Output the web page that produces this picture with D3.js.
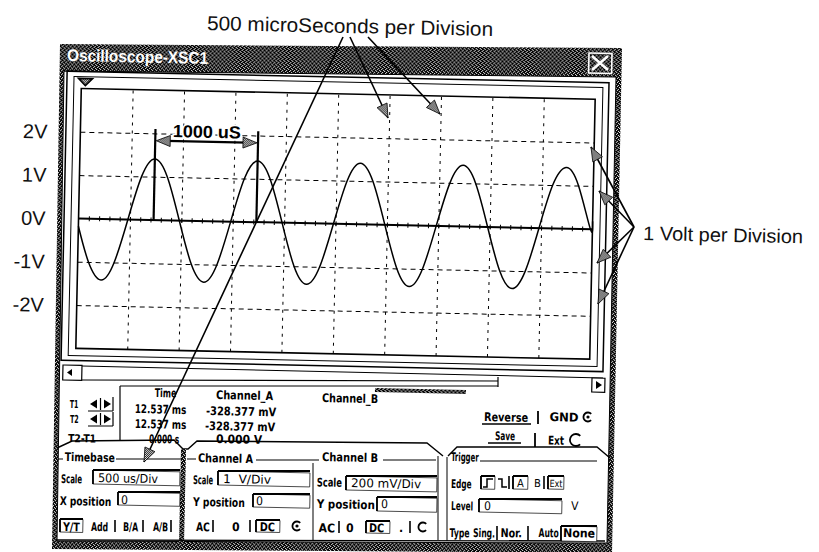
<!DOCTYPE html>
<html><head><meta charset="utf-8">
<script src="https://cdn.jsdelivr.net/npm/d3@7"></script>
<style>html,body{margin:0;padding:0;background:#fff;}svg{display:block;}</style>
</head><body>
<svg id="c" width="819" height="552"></svg>
<script>
// ---------------- DATA ----------------
const timeUs = [0,105,230,355,480,605,730,855,980,1105,1230,1355,1480,1605,1730,1855,1980,2105,2230,2355,2480,2605,2730,2855,2980,3105,3230,3355,3480,3605,3730,3855,3980,4105,4230,4355,4480,4605,4730,4855,4980,5000];
const voltA = [-0.18,
  -1.0,-1.41,-1.0,0,1.0,1.41,1.0,0,
  -1.0,-1.41,-1.0,0,1.0,1.41,1.0,0,
  -1.0,-1.41,-1.0,0,1.0,1.41,1.0,0,
  -1.0,-1.41,-1.0,0,1.0,1.41,1.0,0,
  -1.0,-1.41,-1.0,0,1.0,1.41,1.0,0,
  0.18];
const gridTimesUs = [500,1000,1500,2000,2500,3000,3500,4000,4500];
const gridVolts = [2,1,-1,-2];
const voltTicks = [2,1,0,-1,-2];
const voltLabels = ["2V","1V","0V","-1V","-2V"];
const cursorTimesUs = [730,1730];
const spanVolt = [1.83];
const spanLabel = ["1000 uS"];
const timeDomainUs = [0,5000];
const voltDomain = [-3,3];

// ---------------- SETUP ----------------
const svg = d3.select("#c");
const ROT = 1.2, CX = 335.5, CY = 223.8;
const rad = ROT*Math.PI/180, SN = Math.sin(rad), CS = Math.cos(rad);
const u = (x,y)=>[CX+(x-CX)*CS+(y-CY)*SN, CY-(x-CX)*SN+(y-CY)*CS];
const NARROW = "'Liberation Sans Narrow','Arial Narrow','DejaVu Sans Condensed','Liberation Sans',Arial,sans-serif";
const SANS = "'Liberation Sans',Arial,sans-serif";

const defs = svg.append("defs");
function pattern(id,n,cells){
  const p = defs.append("pattern").attr("id",id).attr("width",n).attr("height",n).attr("patternUnits","userSpaceOnUse");
  p.append("rect").attr("width",n).attr("height",n).attr("fill","#fff");
  cells.forEach(([a,b])=>p.append("rect").attr("x",a).attr("y",b).attr("width",1).attr("height",1).attr("fill","#000"));
}
pattern("dark",4,[[0,0],[1,0],[3,0],[1,1],[2,1],[3,1],[0,2],[2,2],[3,2],[0,3],[1,3],[2,3]]);
pattern("mid",2,[[0,0],[1,1]]);

const g = svg.append("g").attr("transform",`rotate(${ROT},${CX},${CY})`);

function txt(x,y,s,o={}){
  const [a,b]=u(x,y);
  const t=g.append("text").attr("x",a).attr("y",b).text(s)
    .attr("font-family",o.ff||NARROW).attr("font-size",o.fs||12)
    .attr("font-weight",o.fw||"bold").attr("fill",o.fill||"#000")
    .attr("text-anchor",o.anchor||"start").style("white-space","pre");
  if(o.w) t.attr("textLength",o.w).attr("lengthAdjust","spacingAndGlyphs");
  return t;
}
function ln(x1,y1,x2,y2,sw=1,col="#000"){
  const a=u(x1,y1),b=u(x2,y2);
  return g.append("line").attr("x1",a[0]).attr("y1",a[1]).attr("x2",b[0]).attr("y2",b[1]).attr("stroke",col).attr("stroke-width",sw);
}
function pl(pts,sw=1,col="#000"){
  return g.append("path").attr("d","M"+pts.map(p=>u(p[0],p[1]).join(",")).join("L")).attr("fill","none").attr("stroke",col).attr("stroke-width",sw);
}
function poly(pts,fill,stroke="none",sw=0){
  return g.append("path").attr("d","M"+pts.map(p=>u(p[0],p[1]).join(",")).join("L")+"Z").attr("fill",fill).attr("stroke",stroke).attr("stroke-width",sw);
}
function rc(x,y,w,h,fill="none",stroke="#000",sw=1){
  const [a,b]=u(x,y);
  return g.append("rect").attr("x",a).attr("y",b).attr("width",w).attr("height",h).attr("fill",fill).attr("stroke",stroke).attr("stroke-width",sw);
}
function box(x,y,w,h){
  rc(x,y,w,h,"#fff","#000",0.7);
  ln(x,y,x+w,y,1.8); ln(x,y,x,y+h,1.8);
}
function headU(tip,from,len=14,half=5.5){
  const dx=tip[0]-from[0], dy=tip[1]-from[1], L=Math.hypot(dx,dy), ux=dx/L, uy=dy/L;
  const bx=tip[0]-ux*len, by=tip[1]-uy*len;
  const p1=[bx-uy*half,by+ux*half], p2=[bx+uy*half,by-ux*half];
  g.append("path").attr("d","M"+[tip,p1,p2].map(p=>p.join(",")).join("L")+"Z")
    .attr("fill","url(#mid)").attr("stroke","#000").attr("stroke-width",0.8);
}
function arrowObs(x1,y1,x2,y2){ ln(x1,y1,x2,y2,1.6); headU(u(x2,y2),u(x1,y1)); }
function radio(cx,cy,sel,r=4.5){
  const [a,b]=u(cx,cy);
  g.append("path").attr("d",`M${a+r*0.7},${b-r*0.7} A${r},${r} 0 1 0 ${a+r*0.7},${b+r*0.7}`)
    .attr("fill","none").attr("stroke","#000").attr("stroke-width",1.8);
  if(sel) g.append("circle").attr("cx",a).attr("cy",b).attr("r",1.6).attr("fill","#000");
}
function tri(pts){ g.append("path").attr("d","M"+pts.map(p=>u(p[0],p[1]).join(",")).join("L")+"Z").attr("fill","#000"); }

// ---------------- WINDOW ----------------
poly([[60,44],[622,48],[612,553],[52,549]],"url(#dark)");
poly([[64,71],[616,77],[607,543],[57,541]],"#fff","#000",1);
// close button
rc(589,53,23,20,"none","#fff",1.6);
{ const a=u(592,56), b=u(608,70), c=u(608,56), d=u(592,70);
  g.append("path").attr("d",`M${a}L${b}M${c}L${d}`).attr("stroke","#fff").attr("stroke-width",2.6); }
txt(67,61,"Oscilloscope-XSC1",{fs:17,fill:"#fff",w:141,ff:SANS});

// screen frame
g.append("rect").attr("x",64).attr("y",77).attr("width",542).attr("height",289).attr("fill","#fff").attr("stroke","#000").attr("stroke-width",1.5);
g.append("rect").attr("x",71).attr("y",82).attr("width",529).attr("height",279).attr("fill","none").attr("stroke","#000").attr("stroke-width",1);

// ---------------- PLOT ----------------
const x = d3.scaleLinear().domain(timeDomainUs).range([78.5,592.5]);
const y = d3.scaleLinear().domain(voltDomain).range([353.8,93.8]);
const gw = x.range()[1]-x.range()[0], gh = y.range()[0]-y.range()[1];

const gx = g.append("g").attr("transform",`translate(0,${y(voltDomain[0])})`)
  .call(d3.axisBottom(x).tickValues(gridTimesUs).tickSize(-gh).tickFormat(""));
gx.select(".domain").remove();
gx.selectAll("line").attr("stroke","#000").attr("stroke-width",1).attr("stroke-dasharray","3,5");

const gy = g.append("g").attr("transform",`translate(${x(timeDomainUs[0])},0)`)
  .call(d3.axisLeft(y).tickValues(gridVolts).tickSize(-gw).tickFormat(""));
gy.select(".domain").remove();
gy.selectAll("line").attr("stroke","#000").attr("stroke-width",1).attr("stroke-dasharray","5,4");

g.append("rect").attr("x",x(timeDomainUs[0])).attr("y",y(voltDomain[1])).attr("width",gw).attr("height",gh)
  .attr("fill","none").attr("stroke","#000").attr("stroke-width",1.6);

// zero axis with minor ticks
const g0 = g.append("g").attr("transform",`translate(0,${y(0)})`)
  .call(d3.axisBottom(x).tickValues(d3.range(100,5000,100)).tickSize(2.5).tickFormat(""));
g0.select(".domain").remove();
g0.selectAll("line").attr("y1",-2.5).attr("stroke","#000").attr("stroke-width",1);
g.append("line").attr("x1",x(0)).attr("x2",x(5000)).attr("y1",y(0)).attr("y2",y(0)).attr("stroke","#000").attr("stroke-width",2);

// trigger marker
g.append("path").attr("d",`M${x(0)-3},${y(3)-10}L${x(0)+11},${y(3)-10}L${x(0)+4},${y(3)-3}Z`).attr("fill","url(#mid)").attr("stroke","#000").attr("stroke-width",1.6);

// trace
const pts = timeUs.map((t,i)=>[t,voltA[i]]);
g.append("path").datum(pts).attr("fill","none").attr("stroke","#000").attr("stroke-width",1.5)
  .attr("d",d3.line().x(d=>x(d[0])).y(d=>y(d[1])).curve(d3.curveNatural));

// volt labels
g.selectAll("text.vl").data(voltTicks).enter().append("text").attr("class","vl")
  .attr("x",45.5).attr("y",d=>y(d)+7.5).attr("text-anchor","end")
  .attr("font-family",SANS).attr("font-size",20).attr("fill","#111")
  .text((d,i)=>voltLabels[i]);

// cursors + 1000 uS span
cursorTimesUs.forEach(t=>{
  g.append("line").attr("x1",x(t)).attr("x2",x(t)).attr("y1",y(0)).attr("y2",y(2.1)).attr("stroke","#000").attr("stroke-width",2.2);
});
const sy = y(spanVolt[0]);
const ax1 = x(cursorTimesUs[0])+1, ax2 = x(cursorTimesUs[1])-1;
g.append("line").attr("x1",ax1+10).attr("x2",ax2-10).attr("y1",sy).attr("y2",sy).attr("stroke","#000").attr("stroke-width",2.2);
headU([ax1,sy],[ax2,sy],14,5.5);
headU([ax2,sy],[ax1,sy],14,5.5);
g.append("text").attr("x",(ax1+ax2)/2).attr("y",sy-4).attr("text-anchor","middle")
  .attr("font-family",SANS).attr("font-weight","bold").attr("font-size",17.5)
  .attr("stroke","#fff").attr("stroke-width",3).attr("paint-order","stroke")
  .attr("textLength",68).attr("lengthAdjust","spacingAndGlyphs").text(spanLabel[0]);

// ---------------- SCROLL BAR ----------------
rc(63,365,19,15,"#fff","#000",1.2);
tri([[67,372.5],[72,369],[72,376]]);
ln(82,366,603,378,1);
ln(82,380,498,381,1.2);
ln(498,377,498,387,1.2);
rc(592,378,13,14,"#fff","#000",1.2);
tri([[602,385],[596,381],[596,389]]);

// ---------------- READOUT ----------------
ln(120,386,498,386,1.2);
rc(375,388,91,4,"url(#dark)","none",0);
ln(120,386,120,440,1.2);
txt(69.7,408,"T1",{fs:11,w:8.5});
txt(70,423,"T2",{fs:11,w:8.5});
[[88,398],[88,413]].forEach(([bx,by])=>{
  tri([[bx+2,by+6],[bx+9,by+1.5],[bx+9,by+10.5]]);
  tri([[bx+23,by+6],[bx+16,by+1.5],[bx+16,by+10.5]]);
  ln(bx+12.5,by,bx+12.5,by+12,1.2);
  ln(bx,by+13,bx+25,by+13,1.2);
  ln(bx+25,by-1,bx+25,by+13,1.2);
});
txt(68,442,"T2-T1",{fs:11,w:28});
txt(154.7,397,"Time",{fs:12,w:21.5});
txt(134.7,413,"12.537 ms",{fs:12,w:51.5});
txt(134.7,428,"12.537 ms",{fs:12,w:51.5});
txt(149,443,"0.000 s",{fs:12,w:30});
txt(216,399,"Channel_A",{fs:12,w:57});
txt(206,415,"-328.377 mV",{fs:12,w:70});
txt(205,430,"-328.377 mV",{fs:12,w:70});
txt(216,443,"0.000 V",{fs:12,w:46});
txt(322,402,"Channel_B",{fs:12,w:56});
txt(484,421,"Reverse",{fs:12,w:44});
ln(482,424,531,424,1.5);
ln(538,411,538,424,1.8);
txt(549.5,421,"GND",{fs:12,w:29});
radio(588,417,true);
txt(495,440,"Save",{fs:12,w:20});
ln(488,443,521,443,1.5);
ln(535,433,535,447,1.8);
txt(548,444.5,"Ext",{fs:12,w:16});
radio(576,440,false,6);

// ---------------- CONTROL PANELS ----------------
pl([[57,448],[72,441],[174,440],[183,449],[188,449],[197,441],[427,443],[443,456]],1.4);
pl([[448,456],[457,447],[597,447],[610,458]],1.4);
rc(181,449,5,94,"url(#dark)","none",0);
ln(57,540,605,541,1.4);

// Timebase
ln(58,459,63,459,1); ln(116,459,181,459,1);
txt(64.7,461,"Timebase",{fs:12,w:50});
txt(61,483,"Scale",{fs:12,w:21});
box(93,470,87,14); txt(98,482,"500 us/Div",{fs:12,w:60,fw:"normal"});
txt(59.7,505,"X position",{fs:12,w:51.6});
box(118,492,62,13); txt(121,504,"0",{fs:12,fw:"normal"});
box(60,519,23,13);
txt(63,531,"Y/T",{fs:12,w:16.7});
txt(91,531,"Add",{fs:12,w:17});
txt(123,531,"B/A",{fs:12,w:15});
txt(153,531,"A/B",{fs:12,w:15});
[115,143,171].forEach(sx=>ln(sx,520,sx,532,1.6));

// Channel A
ln(187,459,196,459,1); ln(256,460,319,460,1);
txt(198,462,"Channel A",{fs:12,w:55});
txt(193,484,"Scale",{fs:12,w:20});
box(218,471,92,14); txt(223,483,"1\u00a0\u00a0V/Div",{fs:12,w:48,fw:"normal"});
txt(193,506,"Y position",{fs:12,w:51.7});
box(253,494,57,13); txt(256,505,"0",{fs:12,fw:"normal"});
txt(196,531,"AC",{fs:12,w:13.7});
txt(232,531,"0",{fs:12});
box(256,520,24,12); txt(259.7,531,"DC",{fs:12,w:15});
[213,250].forEach(sx=>ln(sx,520,sx,532,1.6));
radio(297,526,true);
ln(313,463,313,540,1);

// Channel B
ln(383,460,436,460,1);
txt(322,461,"Channel B",{fs:12,w:56});
txt(316.8,486.4,"Scale",{fs:12,w:25});
box(346,476,91,14); txt(351,487,"200 mV/Div",{fs:12,w:70,fw:"normal"});
txt(316.8,508,"Y position",{fs:12,w:58});
box(377,497,60,14); txt(381,508,"0",{fs:12,fw:"normal"});
txt(318.6,532,"AC",{fs:12,w:16.4});
txt(346,532,"0",{fs:12});
box(366,521,24,12); txt(369,532,"DC",{fs:12,w:15});
txt(399,532,".",{fs:12});
[339,410].forEach(sx=>ln(sx,521,sx,533,1.6));
radio(423,527,false);
ln(438,456,438,540,1);
ln(447,457,447,541,1);

// Trigger
ln(480,461,597,461,1);
txt(451,461,"Trigger",{fs:12,w:27.6});
txt(451,488,"Edge",{fs:12,w:20.5});
box(481,476,14,13);
pl([[483,487],[487,487],[487,479],[493,479]],1.5);
pl([[498,479],[502,479],[502,487],[507,487]],1.5);
ln(509,476,509,489,1.6);
box(513,476,15,13); txt(517,487,"A",{fs:11,fw:"normal"});
txt(534,487,"B",{fs:11,fw:"normal"});
ln(544,476,544,489,1.6);
box(548,476,16,13); txt(549.5,487,"Ext",{fs:10,w:13,fw:"normal"});
txt(451,510,"Level",{fs:12,w:22});
box(479,499,83,13); txt(484,510,"0",{fs:12,fw:"normal"});
txt(571,510,"V",{fs:12,fw:"normal"});
txt(449.5,537,"Type",{fs:12,w:20});
txt(473,537,"Sing.",{fs:12,w:22});
txt(500.5,537,"Nor.",{fs:12,w:21.5});
txt(538.6,537,"Auto",{fs:12,w:20});
box(561,526,36,15); txt(563,537,"None",{fs:12,w:32});
[497,528].forEach(sx=>ln(sx,526,sx,540,1.6));

// ---------------- ANNOTATIONS ----------------
txt(207,30,"500 microSeconds per Division",{ff:SANS,fs:20,fw:"normal",w:286,fill:"#111"});
txt(643,240,"1 Volt per Division",{ff:SANS,fs:19.5,fw:"normal",w:160,fill:"#111"});
arrowObs(343,37,144,462);
arrowObs(350,37,388,118);
arrowObs(368,37,440,114);
arrowObs(634,227,591,147);
arrowObs(634,227,599,191);
arrowObs(634,227,597,263);
arrowObs(634,227,598,304);
</script>
</body></html>
